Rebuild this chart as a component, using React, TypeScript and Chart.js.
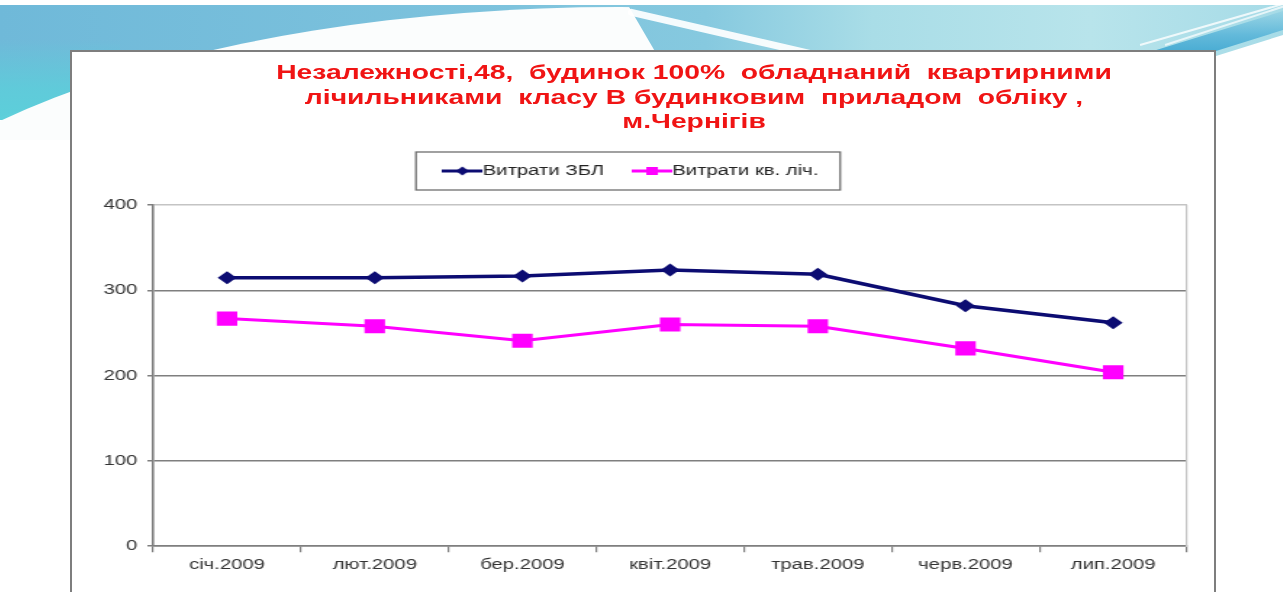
import React, { useEffect, useRef } from 'react';
import { Chart, registerables } from 'chart.js';

Chart.register(...registerables);

// ---- data ----
const categories = ['січ.2009', 'лют.2009', 'бер.2009', 'квіт.2009', 'трав.2009', 'черв.2009', 'лип.2009'];
const seriesNames = ['Витрати ЗБЛ', 'Витрати кв. ліч.'];
const zblValues = [315, 315, 317, 324, 319, 282, 262];
const kvValues = [267, 258, 241, 260, 258, 232, 204];
const yMin = 0;
const yMax = 400;
const yStep = 100;
const titleLines = [
  'Незалежності,48,  будинок 100%  обладнаний  квартирними',
  'лічильниками  класу В будинковим  приладом  обліку ,',
  'м.Чернігів',
];

const FONT = '"Liberation Sans", Arial, sans-serif';
const BLUE = '#0c0c72';
const PINK = '#ff00ff';
const SX = 1.45; // horizontal stretch of the slide picture

function makeLegendImage(color: string, kind: 'diamond' | 'square', lw: number) {
  const c = document.createElement('canvas');
  c.width = 28;
  c.height = 14;
  const g = c.getContext('2d')!;
  g.strokeStyle = color;
  g.fillStyle = color;
  g.lineWidth = lw;
  g.beginPath();
  g.moveTo(0, 7);
  g.lineTo(28, 7);
  g.stroke();
  g.beginPath();
  if (kind === 'diamond') {
    g.moveTo(14, 2.5);
    g.lineTo(18.5, 7);
    g.lineTo(14, 11.5);
    g.lineTo(9.5, 7);
    g.closePath();
  } else {
    g.rect(10, 3, 8, 8);
  }
  g.fill();
  return c;
}

const legendFrame = {
  id: 'legendFrame',
  afterDraw(chart: any) {
    const lg = chart.legend;
    if (!lg || !lg.legendHitBoxes || !lg.legendHitBoxes.length) return;
    const hb = lg.legendHitBoxes;
    const left = Math.min(...hb.map((h: any) => h.left)) - 25;
    const right = Math.max(...hb.map((h: any) => h.left + h.width)) + 15;
    const top = Math.min(...hb.map((h: any) => h.top)) - 12;
    const bottom = Math.max(...hb.map((h: any) => h.top + h.height)) + 12;
    const ctx = chart.ctx;
    ctx.save();
    ctx.strokeStyle = '#6f6f6f';
    ctx.lineWidth = 1.3;
    ctx.strokeRect(left, top, right - left, bottom - top);
    ctx.restore();
  },
};

function ChartCanvas() {
  const ref = useRef<HTMLCanvasElement | null>(null);
  useEffect(() => {
    if (!ref.current) return;
    const images = [makeLegendImage(BLUE, 'diamond', 3), makeLegendImage(PINK, 'square', 3)];
    const chart = new Chart(ref.current, {
      type: 'line',
      data: {
        labels: categories,
        datasets: [
          {
            label: seriesNames[0],
            data: zblValues,
            borderColor: BLUE,
            backgroundColor: BLUE,
            borderWidth: 3.5,
            pointStyle: 'rectRot',
            pointRadius: 6.5,
            pointBorderWidth: 0,
            tension: 0,
          },
          {
            label: seriesNames[1],
            data: kvValues,
            borderColor: PINK,
            backgroundColor: PINK,
            borderWidth: 3,
            pointStyle: 'rect',
            pointRadius: 10,
            pointBorderWidth: 0,
            tension: 0,
          },
        ],
      },
      plugins: [legendFrame],
      options: {
        animation: false,
        responsive: false,
        devicePixelRatio: 1,
        layout: { padding: { left: 0, right: 11, top: 86, bottom: 13 } },
        plugins: {
          tooltip: { enabled: false },
          title: { display: false },
          subtitle: {
            display: true,
            text: '',
            weight: 500,
            position: 'top',
            font: { size: 1 },
            padding: { top: 0, bottom: 16 },
          } as any,
          legend: {
            display: true,
            position: 'top',
            align: 'center',
            labels: {
              usePointStyle: true,
              pointStyleWidth: 14,
              padding: 26,
              color: '#222',
              font: { family: FONT, size: 14 },
              generateLabels: (ch: any) => {
                const items = (Chart.defaults.plugins.legend.labels as any).generateLabels(ch);
                items.forEach((it: any, i: number) => {
                  it.pointStyle = images[i];
                });
                return items;
              },
            },
          },
        },
        scales: {
          x: {
            type: 'category',
            offset: true,
            grid: {
              display: true,
              drawOnChartArea: false,
              drawTicks: true,
              tickLength: 6,
              offset: true,
              color: '#7f7f7f',
              lineWidth: 1.2,
            },
            border: { display: true, color: '#7f7f7f', width: 1.6 },
            ticks: {
              color: '#333',
              font: { family: FONT, size: 14 },
              padding: 5,
              maxRotation: 0,
              autoSkip: false,
            },
          },
          y: {
            type: 'linear',
            position: 'left',
            min: yMin,
            max: yMax,
            afterFit: (s: any) => {
              s.width = 56;
            },
            grid: {
              display: true,
              drawTicks: true,
              tickLength: 4,
              color: (c: any) => (c.tick && c.tick.value === yMax ? '#c4c4c4' : '#7f7f7f'),
              tickColor: '#7f7f7f',
              lineWidth: 1.5,
            },
            border: { display: true, color: '#7f7f7f', width: 1.6 },
            ticks: {
              stepSize: yStep,
              color: '#333',
              font: { family: FONT, size: 14 },
              padding: 7,
            },
          },
          y2: {
            type: 'linear',
            position: 'right',
            min: yMin,
            max: yMax,
            grid: { display: false },
            ticks: { display: false },
            border: { display: true, color: '#c4c4c4', width: 1.2 },
          },
        },
      },
    } as any);
    return () => chart.destroy();
  }, []);
  return <canvas ref={ref} width={788} height={540} style={{ display: 'block', width: 788, height: 540 }} />;
}

export default function App() {
  return (
    <div
      style={{
        position: 'fixed',
        left: 0,
        top: 0,
        width: 1283,
        height: 592,
        overflow: 'hidden',
        background: '#ffffff',
      }}
    >
      {/* slide background decoration: blue band */}
      <div
        style={{
          position: 'absolute',
          left: 0,
          top: 5,
          width: 1283,
          height: 115,
          background:
            'linear-gradient(90deg, #6fb9d9 0%, #7ec3dd 40%, #86c9df 55%, #a9dde7 68%, #b8e4eb 85%, #a6dbe7 100%)',
          clipPath: 'polygon(0 0, 1283px 0, 1283px 30px, 1216px 51px, 70px 90px, 0 112px)',
        }}
      />
      {/* teal tint on the left */}
      <div
        style={{
          position: 'absolute',
          left: 0,
          top: 40,
          width: 120,
          height: 80,
          background: 'linear-gradient(180deg, rgba(94,204,218,0) 0%, rgba(94,204,218,0.9) 60%, #5ccfda 100%)',
        }}
      />
      {/* white dome */}
      <div
        style={{
          position: 'absolute',
          left: 0,
          top: 0,
          width: 1283,
          height: 140,
          overflow: 'hidden',
          clipPath: 'polygon(0 0, 625px 0, 660px 60px, 660px 140px, 0 140px)',
        }}
      >
        <div
          style={{
            position: 'absolute',
            left: -180,
            top: 7,
            width: 1600,
            height: 620,
            borderRadius: '50%',
            background: '#fbfdfd',
          }}
        />
      </div>
      {/* white streak */}
      <div
        style={{
          position: 'absolute',
          left: 628,
          top: 8,
          width: 190,
          height: 7,
          background: 'rgba(255,255,255,0.92)',
          transform: 'rotate(13deg)',
          transformOrigin: 'left center',
          borderRadius: 4,
        }}
      />
      {/* top-right deeper blue wedge with white lines */}
      <div
        style={{
          position: 'absolute',
          left: 1100,
          top: 5,
          width: 183,
          height: 55,
          background: 'linear-gradient(180deg, rgba(120,200,225,0) 0%, #62b9da 55%, #3ea6d0 100%)',
          clipPath: 'polygon(40px 50px, 183px 6px, 183px 25px, 116px 46px, 116px 55px, 40px 55px)',
        }}
      />
      <div
        style={{
          position: 'absolute',
          left: 1140,
          top: 44,
          width: 160,
          height: 1.5,
          background: 'rgba(255,255,255,0.8)',
          transform: 'rotate(-16deg)',
          transformOrigin: 'left center',
        }}
      />
      <div
        style={{
          position: 'absolute',
          left: 1165,
          top: 44,
          width: 130,
          height: 1.5,
          background: 'rgba(255,255,255,0.7)',
          transform: 'rotate(-18deg)',
          transformOrigin: 'left center',
        }}
      />
      {/* chart frame */}
      <div
        style={{
          position: 'absolute',
          left: 70,
          top: 50,
          width: 1146,
          height: 560,
          boxSizing: 'border-box',
          border: '2px solid #7e7e7e',
          background: '#ffffff',
          overflow: 'hidden',
        }}
      >
        <div
          style={{
            position: 'absolute',
            left: 0,
            top: 0,
            width: 788,
            height: 540,
            transform: `scaleX(${SX})`,
            transformOrigin: 'left top',
          }}
        >
          <ChartCanvas />
          <div
            style={{
              position: 'absolute',
              left: 29,
              top: 8,
              width: 800,
              textAlign: 'center',
              whiteSpace: 'pre',
              font: `bold 19.5px ${FONT}`,
              lineHeight: '24.5px',
              color: '#f01414',
            }}
          >
            {titleLines.join('\n')}
          </div>
        </div>
      </div>
    </div>
  );
}
